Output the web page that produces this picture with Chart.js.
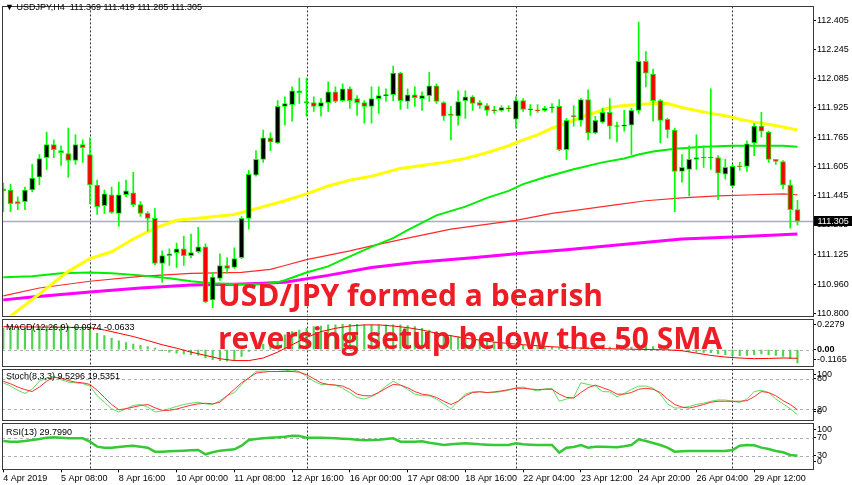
<!DOCTYPE html>
<html><head><meta charset="utf-8">
<script src="https://cdn.jsdelivr.net/npm/chart.js@4.4.1/dist/chart.umd.min.js"></script>
<style>
html,body{margin:0;padding:0;background:#fff;width:852px;height:485px;overflow:hidden;position:relative;}
canvas{position:absolute;left:0;}
.lbl{position:absolute;font-family:"Liberation Sans",Arial,sans-serif;font-size:9px;color:#000;white-space:pre;line-height:10px;}
.big{position:absolute;left:218px;font-family:"Open Sans",sans-serif;font-weight:700;font-size:30px;line-height:30px;color:#ee1c25;white-space:pre;}
</style></head><body>
<canvas id="cMain" width="852" height="322" style="top:0px"></canvas>
<canvas id="cMacd" width="852" height="60" style="top:312px"></canvas>
<canvas id="cStoch" width="852" height="64" style="top:362px"></canvas>
<canvas id="cRsi" width="852" height="69" style="top:416px"></canvas>
<div class="lbl" style="left:5px;top:2px">▼ USDJPY,H4  111.369 111.419 111.285 111.305</div>
<div class="lbl" style="left:6px;top:322px">MACD(12,26,9) -0.0974 -0.0633</div>
<div class="lbl" style="left:6px;top:371px">Stoch(8,3,3) 9.5296 19.5351</div>
<div class="lbl" style="left:6px;top:427px">RSI(13) 29.7990</div>
<div class="big" style="top:280.4px">USD/JPY formed a bearish</div>
<div class="big" style="top:323.4px">reversing setup below the 50 SMA</div>
<script>
// ---------- DATA (H4 bars, index 0 = 4 Apr 2019 00:00) ----------
const openP = [111.482,111.476,111.412,111.412,111.476,111.546,111.653,111.724,111.691,111.675,
111.637,111.724,111.670,111.503,111.390,111.450,111.348,111.450,111.460,111.396,
111.348,111.321,111.074,111.117,111.133,111.154,111.117,111.138,111.165,110.875,
110.993,111.063,111.052,111.106,111.321,111.557,111.643,111.761,111.734,111.933,
111.943,112.018,111.960,111.954,111.933,111.954,112.013,111.965,112.029,111.976,
111.954,111.933,111.976,111.992,111.997,112.115,111.960,111.997,111.976,111.992,
112.045,111.954,111.884,111.879,111.965,111.986,111.954,111.938,111.911,111.911,
111.922,111.863,111.965,111.916,111.911,111.911,111.927,111.933,111.696,111.879,
111.857,111.970,111.788,111.847,111.900,111.825,111.825,111.831,111.911,112.179,
112.110,111.965,111.863,111.804,111.578,111.589,111.643,111.653,111.653,111.653,
111.562,111.498,111.605,111.605,111.734,111.825,111.793,111.643,111.632,111.503,111.369];
const highP = [111.514,111.508,111.439,111.492,111.616,111.670,111.793,111.750,111.718,111.814,
111.777,111.750,111.761,111.530,111.476,111.492,111.519,111.530,111.573,111.412,
111.358,111.374,111.143,111.154,111.186,111.224,111.235,111.272,111.181,111.025,
111.127,111.106,111.160,111.331,111.584,111.691,111.804,111.788,111.965,111.986,
112.040,112.088,112.088,111.986,111.976,112.067,112.040,112.056,112.040,111.992,
111.965,112.040,112.040,112.029,112.153,112.120,112.029,112.040,112.013,112.120,
112.056,111.960,111.933,112.018,112.018,111.992,111.965,111.949,111.933,111.938,
111.938,111.986,111.976,111.943,111.943,111.933,111.949,111.970,111.868,111.938,
111.976,112.024,111.879,111.922,111.976,111.847,111.911,111.922,112.394,112.233,
112.137,111.970,111.868,111.814,111.670,111.718,111.777,111.718,112.029,111.664,
111.643,111.616,111.627,111.745,111.841,111.900,111.798,111.643,111.637,111.530,111.419];
const lowP = [111.358,111.358,111.369,111.369,111.466,111.503,111.589,111.653,111.610,111.546,
111.616,111.627,111.401,111.342,111.348,111.348,111.278,111.439,111.385,111.331,
111.251,111.068,110.972,111.063,111.052,111.063,111.106,111.133,110.860,110.832,
110.982,111.020,111.047,111.101,111.262,111.551,111.627,111.691,111.729,111.831,
111.852,111.949,111.879,111.906,111.879,111.906,111.954,111.960,111.922,111.884,
111.841,111.841,111.895,111.960,111.965,111.916,111.922,111.933,111.911,111.960,
111.949,111.857,111.750,111.831,111.868,111.911,111.922,111.884,111.895,111.906,
111.906,111.814,111.906,111.884,111.900,111.906,111.900,111.691,111.643,111.825,
111.825,111.750,111.782,111.841,111.755,111.739,111.798,111.670,111.895,112.040,
111.852,111.734,111.761,111.358,111.519,111.444,111.589,111.600,111.589,111.423,
111.535,111.492,111.584,111.578,111.664,111.766,111.627,111.616,111.482,111.267,111.285];
const closeP = [111.471,111.401,111.401,111.476,111.541,111.648,111.724,111.696,111.680,111.637,
111.724,111.707,111.503,111.385,111.455,111.353,111.450,111.471,111.396,111.348,
111.321,111.074,111.117,111.127,111.154,111.117,111.133,111.165,110.864,110.999,
111.063,111.047,111.101,111.321,111.562,111.643,111.761,111.739,111.933,111.949,
112.018,112.008,111.954,111.933,111.954,112.013,111.960,112.029,111.965,111.954,
111.933,111.976,111.992,111.997,112.115,111.965,111.997,111.981,111.992,112.045,
111.960,111.879,111.884,111.960,111.986,111.949,111.938,111.911,111.909,111.927,
111.920,111.965,111.916,111.914,111.909,111.922,111.925,111.696,111.857,111.877,
111.970,111.788,111.857,111.900,111.825,111.823,111.831,111.911,112.179,112.115,
111.965,111.857,111.804,111.578,111.600,111.643,111.653,111.651,111.651,111.568,
111.600,111.605,111.603,111.729,111.825,111.798,111.643,111.632,111.503,111.369,111.305];

// moving averages, read at selected bars
const yellowIdx = [0,2,5,9,12,15,18,21,24,28,32,35,39,42,45,48,51,55,58,61,64,67,70,72,74,76,78,80,82,84,86,88,90,92,94,96,98,100,102,104,106,108,110];
const yellowVal = [110.757,110.816,110.907,111.031,111.101,111.138,111.208,111.267,111.310,111.326,111.342,111.374,111.417,111.455,111.498,111.530,111.551,111.594,111.610,111.627,111.648,111.680,111.718,111.750,111.777,111.814,111.841,111.874,111.900,111.927,111.938,111.943,111.949,111.949,111.927,111.911,111.895,111.882,111.863,111.847,111.836,111.820,111.804];
const greenIdx = [0,4,8,12,15,19,23,26,29,33,36,38,39,42,45,47,51,54,56,60,64,67,70,72,75,79,83,86,88,90,93,97,101,105,108,110];
const greenVal = [110.999,111.004,111.020,111.025,111.020,111.009,110.993,110.977,110.966,110.961,110.961,110.972,110.982,111.025,111.058,111.095,111.165,111.213,111.256,111.337,111.385,111.433,111.471,111.508,111.546,111.589,111.627,111.648,111.670,111.686,111.702,111.713,111.718,111.718,111.718,111.713];
const redIdx = [0,5,12,19,26,33,37,39,42,48,51,56,62,71,76,80,85,89,94,99,104,108,110];
const redVal = [110.897,110.940,110.977,111.004,111.020,111.025,111.042,111.063,111.095,111.143,111.170,111.213,111.262,111.310,111.348,111.369,111.396,111.417,111.433,111.444,111.450,111.455,111.450];
const magIdx = [0,4,12,19,26,32,36,39,45,51,57,65,71,78,88,94,101,110];
const magVal = [110.875,110.891,110.918,110.940,110.956,110.961,110.966,110.972,111.009,111.052,111.079,111.106,111.127,111.149,111.186,111.208,111.219,111.235];

// MACD(12,26,9)
const macdHist = [0.156,0.156,0.161,0.166,0.171,0.173,0.176,0.176,0.176,0.173,
0.171,0.168,0.156,0.120,0.103,0.084,0.065,0.052,0.040,0.031,
0.023,0.011,-0.008,-0.018,-0.025,-0.032,-0.037,-0.042,-0.061,-0.073,
-0.080,-0.085,-0.080,-0.049,-0.013,0.011,0.040,0.060,0.084,0.108,
0.132,0.144,0.156,0.168,0.173,0.181,0.181,0.185,0.185,0.185,
0.181,0.181,0.181,0.181,0.181,0.181,0.176,0.168,0.156,0.144,
0.132,0.120,0.103,0.094,0.084,0.079,0.072,0.065,0.055,0.048,
0.040,0.036,0.031,0.026,0.023,0.021,0.019,0.011,0.011,0.011,
0.016,0.019,0.019,0.019,0.019,0.016,0.016,0.019,0.040,0.031,
0.023,0.016,0.011,-0.001,-0.008,-0.013,-0.018,-0.020,-0.022,-0.032,
-0.037,-0.042,-0.044,-0.042,-0.037,-0.032,-0.037,-0.042,-0.049,-0.066,-0.097];
const macdSigIdx = [0,4,8,12,14,16,18,20,22,24,26,28,30,32,34,36,38,40,42,44,46,48,50,52,54,56,58,60,64,68,72,76,80,84,88,92,94,96,98,100,102,104,106,108,110];
const macdSigVal = [0.168,0.166,0.164,0.161,0.144,0.120,0.096,0.067,0.036,0.011,-0.018,-0.042,-0.066,-0.080,-0.080,-0.061,-0.018,0.036,0.089,0.132,0.156,0.173,0.181,0.181,0.173,0.161,0.144,0.120,0.084,0.055,0.036,0.021,0.011,0.007,0.002,-0.001,-0.008,-0.025,-0.042,-0.054,-0.061,-0.066,-0.064,-0.061,-0.063];

// Stochastic(8,3,3)
const stochMain = [72.4,66.0,57.7,51.4,59.7,75.6,82.0,85.1,78.8,73.7,
72.4,71.1,66.0,46.9,34.2,21.4,15.0,21.4,27.8,29.7,
24.6,15.0,17.0,21.4,25.9,29.7,32.2,34.2,31.0,29.7,
37.3,46.9,53.3,69.2,82.0,94.7,96.0,94.7,94.7,96.0,
97.8,94.7,85.1,75.6,69.2,69.2,67.9,61.6,53.3,43.7,
40.5,45.0,53.3,66.0,75.6,67.9,59.7,50.1,46.9,46.9,
40.5,31.0,21.4,36.1,50.1,54.6,55.2,53.3,53.3,55.2,
57.7,62.8,64.1,59.7,56.5,60.3,61.6,36.1,40.5,43.7,
72.4,69.2,66.0,55.2,54.6,45.0,51.4,59.7,66.0,66.0,
61.6,50.1,31.0,22.7,23.3,25.9,29.7,32.2,36.1,38.6,
38.6,36.1,33.5,40.5,55.2,57.7,53.3,40.5,31.0,21.4,9.5];
const stochSignal = [75.6,70.5,64.1,59.0,55.2,64.1,75.6,83.2,82.0,76.9,
73.7,72.4,69.2,57.7,43.7,29.7,19.5,21.4,24.6,27.8,
29.7,23.3,18.2,18.2,20.8,24.6,28.4,31.0,32.2,31.0,
34.2,46.9,59.7,72.4,82.0,91.5,93.4,94.7,94.7,94.7,
94.7,93.4,88.3,80.7,72.4,69.2,67.9,66.0,59.7,50.1,
46.9,46.9,53.3,61.6,69.2,67.9,62.8,55.2,50.1,48.2,
43.7,36.1,29.7,36.1,46.9,53.3,54.6,53.3,54.6,56.5,
59.0,61.6,61.6,60.3,59.0,59.7,59.7,50.1,43.7,42.4,
53.3,62.8,67.9,62.8,57.7,50.1,50.1,53.3,59.7,61.6,
59.7,53.3,40.5,29.7,24.6,22.7,25.9,29.7,34.2,36.1,
36.1,36.1,36.1,37.3,45.0,55.2,53.3,46.9,37.3,29.7,19.5];

// RSI(13)
const rsiVal = [62.5,61.0,61.0,62.5,64.7,66.9,69.9,70.6,69.9,68.4,
68.4,68.4,61.0,50.0,47.8,47.8,49.3,50.7,52.2,50.0,
47.8,39.0,39.0,39.7,40.4,41.2,41.9,42.6,33.1,37.5,
41.2,42.6,44.1,52.2,64.7,66.9,68.4,69.9,70.6,72.1,
74.3,73.5,69.9,69.9,69.9,69.1,68.4,67.6,66.9,65.4,
64.0,64.7,65.4,66.9,68.4,61.0,61.0,61.0,61.8,58.8,
56.6,53.7,55.1,56.6,57.4,56.6,55.1,54.4,53.7,53.7,
53.7,57.4,55.1,54.4,53.7,53.7,53.7,36.8,47.8,49.3,
53.7,47.8,50.0,50.0,49.3,48.5,50.7,53.7,66.2,62.5,
58.1,53.7,47.8,39.0,39.7,40.4,40.4,40.4,40.4,40.4,
40.4,42.6,52.2,53.7,52.9,47.8,44.9,40.4,37.5,31.6,29.8];

// axis ticks / labels
const xTickIdx = [0,8,16,24,32,40,48,56,64,72,80,88,96,104];
const xTickLabels = ['4 Apr 2019','5 Apr 08:00','8 Apr 16:00','10 Apr 00:00','11 Apr 08:00','12 Apr 16:00','16 Apr 00:00','17 Apr 08:00','18 Apr 16:00','22 Apr 04:00','23 Apr 12:00','24 Apr 20:00','26 Apr 04:00','29 Apr 12:00'];
const sepIdx = [12,42,71,101];
const priceTicks = [112.405,112.245,112.085,111.925,111.765,111.605,111.445,111.285,111.125,110.960,110.800];
const priceTickLabels = ['112.405','112.245','112.085','111.925','111.765','111.605','111.445','111.285','111.125','110.960','110.800'];
const macdTickPos = [0.1808,0,-0.0730];
const macdTickLabels = ['0.2279','0.00','-0.1165'];
const stochTickPos = [88.2,80,20,16.2];
const stochTickLabels = ['100','80','20','0'];
const rsiTickPos = [88.3,70,30,16.8];
const rsiTickLabels = ['100','70','30','0'];
const lastPrice = 111.305;

// ---------- CHARTS ----------
Chart.defaults.font.family = '"Liberation Sans", Arial, sans-serif';
Chart.defaults.font.size = 9;
Chart.defaults.color = '#000';
const X_MIN = -0.18, X_MAX = 112.15;
const FONT = '"Liberation Sans", Arial, sans-serif';

function hline(ctx,x1,y1,x2,y2){ctx.beginPath();ctx.moveTo(x1,y1);ctx.lineTo(x2,y2);ctx.stroke();}
const mt4 = {
  id: 'mt4',
  beforeDatasetsDraw(chart, args, o) {
    const {ctx, chartArea: a, scales} = chart;
    const xs = scales.x, ys = scales.y;
    ctx.save();
    ctx.beginPath(); ctx.rect(a.left, a.top, a.right - a.left, a.bottom - a.top); ctx.clip();
    ctx.lineWidth = 1;
    if (o.levels) {
      ctx.strokeStyle = '#b0b0b0'; ctx.setLineDash([3, 3]);
      for (const v of o.levels) { const y = Math.round(ys.getPixelForValue(v)) + 0.5; hline(ctx, a.left, y, a.right, y); }
    }
    if (o.price != null) {
      ctx.setLineDash([]); ctx.strokeStyle = '#a8adb9'; ctx.lineWidth = 1.3;
      const y = Math.round(ys.getPixelForValue(o.price)) + 0.5; hline(ctx, a.left, y, a.right, y);
    }
    ctx.lineWidth = 1; ctx.strokeStyle = '#303030'; ctx.setLineDash([2, 2]);
    for (const i of sepIdx) { const x = Math.round(xs.getPixelForValue(i)) + 0.5; hline(ctx, x, a.top, x, a.bottom); }
    ctx.restore();
  },
  afterDraw(chart, args, o) {
    const {ctx, chartArea: a, scales} = chart;
    ctx.save();
    ctx.strokeStyle = '#3a3a3a'; ctx.lineWidth = 1; ctx.setLineDash([]);
    const l = Math.round(a.left) + 0.5, t = Math.round(a.top) + 0.5, r = Math.round(a.right) + 0.5, b = Math.round(a.bottom) + 0.5;
    ctx.strokeRect(l, t, r - l, b - t);
    if (o.tag != null) {
      const y = Math.round(scales.y.getPixelForValue(o.tag));
      ctx.fillStyle = '#000'; ctx.fillRect(r + 0.5, y - 5, chart.width - r, 10);
      ctx.fillStyle = '#fff'; ctx.font = '9px ' + FONT; ctx.textBaseline = 'middle'; ctx.textAlign = 'left';
      ctx.fillText(o.tagText, r + 4, y + 0.5);
    }
    ctx.restore();
  }
};

function xScale(showLabels) {
  const s = {
    type: 'linear', min: X_MIN, max: X_MAX, offset: false, display: showLabels,
    afterFit: sc => { sc.height = showLabels ? 15.7 : 0; }
  };
  if (showLabels) {
    Object.assign(s, {
      position: 'bottom',
      afterBuildTicks: sc => { sc.ticks = xTickIdx.map(v => ({value: v})); },
      ticks: {autoSkip: false, maxRotation: 0, minRotation: 0, align: 'start', padding: 1, labelOffset: 0,
              callback: (v, i) => xTickLabels[i], font: {size: 9, family: FONT}, color: '#000'},
      grid: {drawOnChartArea: false, drawTicks: true, tickLength: 3, tickColor: '#000', color: '#000'},
      border: {display: false}
    });
  }
  return s;
}
function yScale(min, max, pos, labels, boldZero) {
  return {
    type: 'linear', position: 'right', min, max, beginAtZero: false,
    afterBuildTicks: sc => { sc.ticks = pos.map(v => ({value: v})); },
    afterFit: sc => { sc.width = 39; },
    ticks: {autoSkip: false, padding: 1, callback: (v, i) => labels[i], color: '#000',
            font: c => ({size: 9, family: FONT, weight: (boldZero && c.tick && c.tick.value === 0) ? 'bold' : 'normal'})},
    grid: {drawOnChartArea: false, drawTicks: true, tickLength: 3, tickColor: '#000', color: '#000'},
    border: {display: false}
  };
}
function baseOpts(padTop, padBottom, scales, mt4opts) {
  return {
    responsive: false, maintainAspectRatio: false, animation: false, events: [],
    devicePixelRatio: 1,
    layout: {padding: {left: 2, right: 0, top: padTop, bottom: padBottom}},
    scales,
    plugins: {legend: {display: false}, tooltip: {enabled: false}, mt4: mt4opts}
  };
}
const pts = (idx, vals) => idx.map((i, k) => ({x: i, y: vals[k]}));
const barIdx = openP.map((_, i) => i);

// Main price chart
new Chart(document.getElementById('cMain'), {
  type: 'bar',
  data: {datasets: [
    {type: 'line', data: pts(magIdx, magVal), borderColor: '#ff00ff', borderWidth: 3, pointRadius: 0, order: 14},
    {type: 'line', data: pts(redIdx, redVal), borderColor: '#ff2a2a', borderWidth: 1.2, pointRadius: 0, order: 13},
    {type: 'line', data: pts(greenIdx, greenVal), borderColor: '#00ee00', borderWidth: 2, pointRadius: 0, order: 12},
    {type: 'line', data: pts(yellowIdx, yellowVal), borderColor: '#ffff00', borderWidth: 3, pointRadius: 0, order: 11},
    {type: 'bar', data: barIdx.map(i => ({x: i, y: [lowP[i], highP[i]]})), backgroundColor: '#00ff00',
     barThickness: 1, grouped: false, borderWidth: 0, order: 5},
    {type: 'bar', data: barIdx.map(i => ({x: i, y: [openP[i], closeP[i]]})),
     backgroundColor: barIdx.map(i => closeP[i] > openP[i] ? '#000000' : '#ff0000'),
     borderColor: '#00ff00', borderWidth: 1, borderSkipped: false, barThickness: 5, minBarLength: 1,
     grouped: false, order: 4}
  ]},
  options: baseOpts(1, 6, {x: xScale(false), y: yScale(110.789, 112.480, priceTicks, priceTickLabels, false)},
                    {price: lastPrice, tag: lastPrice, tagText: '111.305'}),
  plugins: [mt4]
});

// MACD
new Chart(document.getElementById('cMacd'), {
  type: 'bar',
  data: {datasets: [
    {type: 'line', data: pts(macdSigIdx, macdSigVal), borderColor: '#ff0000', borderWidth: 1, pointRadius: 0, order: 1},
    {type: 'bar', data: barIdx.map(i => ({x: i, y: macdHist[i]})), backgroundColor: '#4fd44f',
     barThickness: 1.5, grouped: false, borderWidth: 0, order: 2}
  ]},
  options: baseOpts(6.5, 6, {x: xScale(false), y: yScale(-0.1165, 0.2279, macdTickPos, macdTickLabels, true)},
                    {levels: [0]}),
  plugins: [mt4]
});

// Stochastic
new Chart(document.getElementById('cStoch'), {
  type: 'line',
  data: {datasets: [
    {data: barIdx.map(i => ({x: i, y: stochSignal[i]})), borderColor: '#ff3030', borderWidth: 1, pointRadius: 0},
    {data: barIdx.map(i => ({x: i, y: stochMain[i]})), borderColor: '#5fdc5f', borderWidth: 1, pointRadius: 0}
  ]},
  options: baseOpts(6.8, 4.8, {x: xScale(false), y: yScale(0, 100, stochTickPos, stochTickLabels, false)},
                    {levels: [80, 20]}),
  plugins: [mt4]
});

// RSI
new Chart(document.getElementById('cRsi'), {
  type: 'line',
  data: {datasets: [
    {data: barIdx.map(i => ({x: i, y: rsiVal[i]})), borderColor: '#35c935', borderWidth: 2.5, pointRadius: 0}
  ]},
  options: baseOpts(6.5, 0, {x: xScale(true), y: yScale(0, 103.3, rsiTickPos, rsiTickLabels, false)},
                    {levels: [70, 30]}),
  plugins: [mt4]
});
</script>
</body></html>
